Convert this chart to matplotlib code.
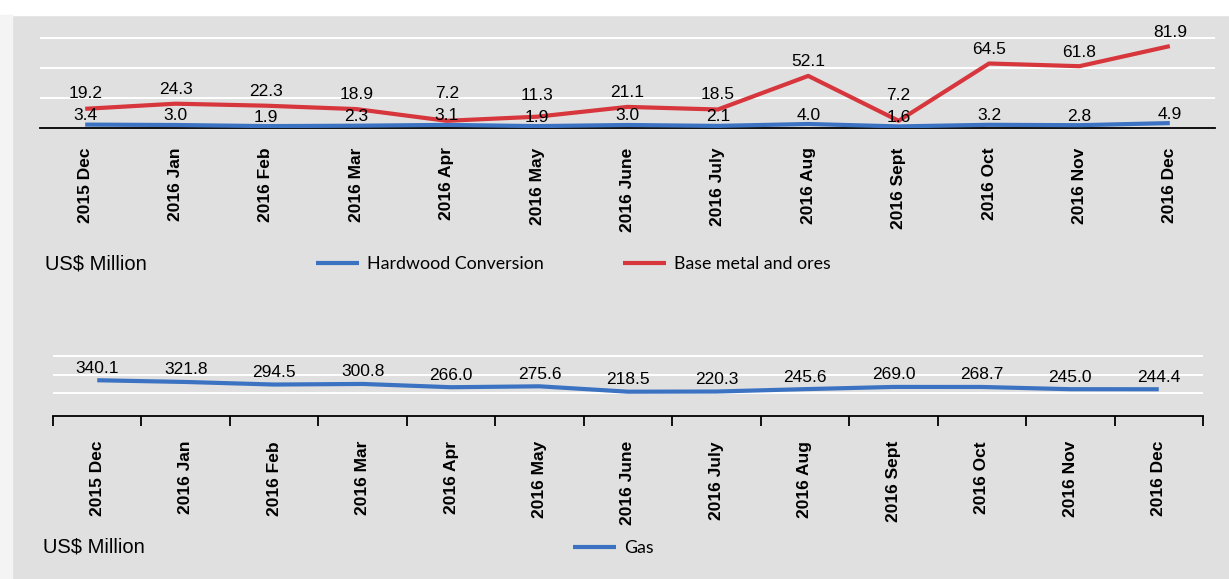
"""Monthly exports, Dec 2015 - Dec 2016: two stacked line panels (US$ million)."""
import matplotlib
matplotlib.use("Agg")
import matplotlib.pyplot as plt
from matplotlib.patches import Rectangle

months = ["2015 Dec", "2016 Jan", "2016 Feb", "2016 Mar", "2016 Apr", "2016 May",
          "2016 June", "2016 July", "2016 Aug", "2016 Sept", "2016 Oct", "2016 Nov",
          "2016 Dec"]
hardwood = [3.4, 3.0, 1.9, 2.3, 3.1, 1.9, 3.0, 2.1, 4.0, 1.6, 3.2, 2.8, 4.9]
base_metal = [19.2, 24.3, 22.3, 18.9, 7.2, 11.3, 21.1, 18.5, 52.1, 7.2, 64.5, 61.8, 81.9]
gas = [340.1, 321.8, 294.5, 300.8, 266.0, 275.6, 218.5, 220.3, 245.6, 269.0, 268.7,
       245.0, 244.4]

BLUE = "#3b73c2"
RED = "#d6363c"
BG = "#e0e0e0"
ARIAL = "Liberation Sans"
LEG_FONT = "Lato"

fig = plt.figure(figsize=(12.29, 5.79), dpi=100, facecolor=BG)
# white margins at the top and the left, as in the scanned report
fig.patches.append(Rectangle((0, 1 - 15 / 579), 1, 15 / 579, transform=fig.transFigure,
                             color="white", zorder=0))
fig.patches.append(Rectangle((0, 0), 12 / 1229, 1 - 15 / 579, transform=fig.transFigure,
                             color="#f4f4f4", zorder=0))

x = list(range(len(months)))


def style(ax, ylim, grid):
    ax.set_facecolor("none")
    ax.set_xlim(-0.5, len(months) - 0.5)
    ax.set_ylim(*ylim)
    for s in ("top", "right", "left"):
        ax.spines[s].set_visible(False)
    ax.spines["bottom"].set_color("black")
    ax.spines["bottom"].set_linewidth(1.3)
    ax.set_yticks(grid)
    ax.set_yticklabels([])
    ax.tick_params(axis="y", length=0)
    ax.grid(axis="y", color="white", lw=1.4)
    ax.set_axisbelow(True)
    ax.set_xticks(x)
    ax.set_xticklabels(months, rotation=90, fontsize=12.5, fontweight="bold",
                       family=ARIAL, va="top")


def label(ax, xs, ys, offs, color="black"):
    for xi, yi, dy in zip(xs, ys, offs):
        ax.annotate(f"{yi:.1f}", (xi, yi), xytext=(0, dy), textcoords="offset pixels",
                    ha="center", va="center", fontsize=12.5, family=ARIAL, color=color)


# ---- top panel: hardwood conversion + base metal and ores
ax1 = fig.add_axes([40 / 1229, 1 - 128 / 579, 1175 / 1229, 110 / 579])
style(ax1, (0, 110), [30, 60, 90])
ax1.tick_params(axis="x", length=0, pad=14)
l1, = ax1.plot(x, hardwood, color=BLUE, lw=3, solid_capstyle="butt", zorder=3,
               label="Hardwood Conversion")
l2, = ax1.plot(x, base_metal, color=RED, lw=3, solid_capstyle="butt", zorder=3,
               label="Base metal and ores")
# blue labels sit just above the line; red ones above the red point but clear of blue
blue_off = [9] * len(x)
label(ax1, x, hardwood, blue_off)
red_off = [max(14, (h - r) + b + 22) for h, r, b in zip(hardwood, base_metal, blue_off)]
label(ax1, x, base_metal, red_off)

fig.text(45 / 1229, 1 - 264 / 579, "US$ Million", fontsize=14.5, family=ARIAL,
         va="center", ha="left")
fig.legend(handles=[l1, l2], loc="center left", bbox_to_anchor=(300 / 1229, 1 - 264 / 579),
           ncol=2, frameon=False, prop={"family": LEG_FONT, "size": 12.8},
           handlelength=2.4, handletextpad=0.45, columnspacing=4.5)

# ---- bottom panel: gas
ax2 = fig.add_axes([53 / 1229, 1 - 416 / 579, 1150 / 1229, 79 / 579])
style(ax2, (-40, 800), [200, 400, 600])
ax2.tick_params(axis="x", which="major", length=0, pad=18)
ax2.set_xticks([i - 0.5 for i in range(len(months) + 1)], minor=True)
ax2.tick_params(axis="x", which="minor", length=7, width=1.3, color="black",
                direction="out")
l3, = ax2.plot(x, gas, color=BLUE, lw=3, solid_capstyle="butt", zorder=3, label="Gas")
label(ax2, x, gas, [12] * len(x))

fig.text(43 / 1229, 1 - 547 / 579, "US$ Million", fontsize=14.5, family=ARIAL,
         va="center", ha="left")
fig.legend(handles=[l3], loc="center left", bbox_to_anchor=(557 / 1229, 1 - 548 / 579),
           frameon=False, prop={"family": LEG_FONT, "size": 12.8},
           handlelength=2.4, handletextpad=0.45)

fig.savefig("out.png", dpi=100, facecolor=BG)
